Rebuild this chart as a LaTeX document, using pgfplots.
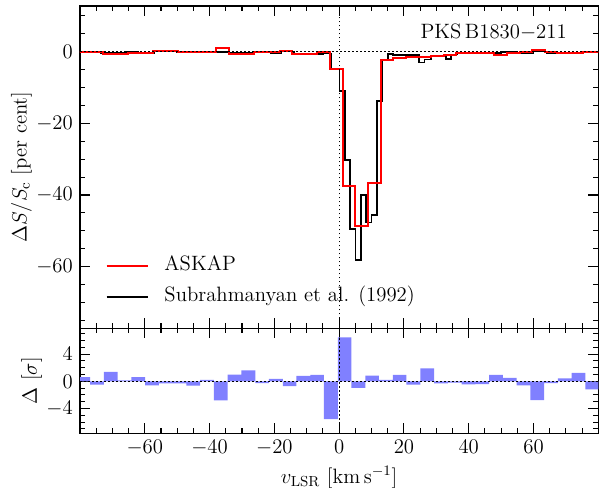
\documentclass[border=0pt]{standalone}
\usepackage{fix-cm}
\usepackage{fontspec}
\usepackage{pgfplots}
\pgfplotsset{compat=1.18}

\definecolor{resid}{RGB}{128,128,255}

\pgfplotsset{
  spec/.style={
    scale only axis, width=336.9pt,
    xmin=-80, xmax=80,
    tick align=inside,
    major tick length=6.5pt, minor tick length=3.3pt,
    every tick/.style={black, line width=0.7pt},
    axis line style={line width=0.9pt},
    xtick={-60,-40,...,60},
    minor xtick={-75,-70,...,75},
  },
}

\begin{document}
\fontsize{13.5}{16}\selectfont
\begin{tikzpicture}

% residuals
\begin{axis}[spec,
  name=res, at={(0,0)}, anchor=south west,
  height=68.25pt,
  ymin=-7.65, ymax=7.8,
  ytick={-4,0,4},
  minor ytick={-7,...,7},
  xlabel={$v_{\rm LSR}$ [km\,s$^{-1}$]},
  ylabel={$\Delta$ [$\sigma$]},
  every axis y label/.style={at={(axis description cs:-0.093,0.5)}, rotate=90, anchor=center},
  every axis x label/.style={at={(axis description cs:0.5,0)}, yshift=-28.5pt, anchor=center},
]
\addplot[const plot, fill=resid, draw=none] coordinates {
(-81.09,0.6) (-76.84,-0.5) (-72.60,1.4) (-68.35,0.15) (-64.11,0.6)
(-59.86,-0.6) (-55.62,-0.3) (-51.37,-0.3) (-47.13,-0.65) (-42.88,0.2)
(-38.64,-2.8) (-34.39,1.0) (-30.15,1.6) (-25.90,-0.25) (-21.66,0.35)
(-17.41,-0.7) (-13.17,0.8) (-8.92,0.95) (-4.68,-5.55) (-0.43,6.45)
(3.81,-0.95) (8.06,0.85) (12.30,0.2) (16.55,0.95) (20.79,-0.5)
(25.04,1.9) (29.28,-0.3) (33.53,-0.2) (37.77,-0.45) (42.02,-0.4)
(46.26,0.95) (50.51,0.5) (54.75,-0.6) (59.00,-2.75) (63.24,-0.25)
(67.49,0.45) (71.73,1.25) (75.98,-1.2) (80.22,-1.2)
} \closedcycle;
\addplot[black, line width=0.8pt, dash pattern=on 1pt off 1.6pt] coordinates {(-80,0) (80,0)};
\addplot[black, line width=0.8pt, dash pattern=on 1pt off 1.6pt] coordinates {(0,-8) (0,8)};
\end{axis}

% spectra
\begin{axis}[spec,
  name=main, at={(0,68.25pt)}, anchor=south west,
  height=209.5pt,
  ymin=-77.2, ymax=12.75,
  xticklabels={},
  ytick={-60,-40,-20,0},
  minor ytick={-75,-70,...,10},
  ylabel={$\Delta S/S_{\rm c}$ [per cent]},
  every axis y label/.style={at={(axis description cs:-0.113,0.5)}, rotate=90, anchor=center},
  legend cell align=left,
  legend style={draw=none, fill=none, at={(axis cs:-72.2,-64.1)}, anchor=west,
    inner sep=0pt, row sep=3pt,
    nodes={inner sep=2pt, text height=9.5pt, text depth=3.5pt},
    /tikz/every odd column/.append style={column sep=8pt}},
  legend image code/.code={\draw[#1] (0pt,0pt) -- (27pt,0pt);},
]
\addlegendimage{red, line width=1.3pt}
\addlegendentry{ASKAP}
\addlegendimage{black, line width=1pt}
\addlegendentry{Subrahmanyan et al. (1992)}

% Subrahmanyan et al. (1992)
\addplot[const plot, black, line width=1pt, forget plot] coordinates {
(-80,-0.1) (-73.5,-0.3) (-66,-0.1) (-62,-0.3) (-57,0.0) (-50,-0.2)
(-44,-0.1) (-34,-0.35) (-27,-0.2) (-21,-0.3) (-18,0.0) (-14,-0.5)
(-9,-0.6) (-5,-0.45) (-2.3,-4.9) (0.1,-10.9) (1.8,-30.2) (3.4,-49.5)
(5.0,-58.1) (6.7,-40.0) (8.3,-47.7) (10.0,-45.6) (11.7,-13.8)
(13.2,-2.3) (15.0,-0.65) (16.6,-1.0) (24.7,-3.0) (26.3,-2.2)
(28.3,-1.1) (33.0,-2.0) (34.6,-0.85) (36.6,-0.2) (45,-0.4) (50,-0.1)
(55,-0.3) (60,0.1) (64,-0.3) (70,-0.2) (75,0.0) (80,0.0)
};

% ASKAP
\addplot[const plot, red, line width=1.3pt, forget plot] coordinates {
(-80.8,-0.2) (-76.9,-0.2) (-73.0,-0.6) (-69.1,-0.6) (-65.2,-0.5)
(-61.3,-0.3) (-57.4,0.1) (-53.5,0.1) (-49.6,-0.2) (-45.7,-0.2)
(-41.8,-0.1) (-37.9,0.95) (-34.0,-0.7) (-30.1,-0.7) (-26.2,-0.2)
(-22.3,-0.2) (-18.4,0.1) (-14.5,-0.55) (-10.6,-0.55) (-6.7,-0.15)
(-2.8,-4.9) (1.1,-37.4) (5.0,-48.6) (8.9,-36.7) (12.8,-2.2)
(16.7,-1.9) (20.6,-1.6) (24.5,-1.4) (28.4,-1.2) (32.3,-0.8)
(36.2,-0.45) (40.1,-0.5) (44.0,-0.5) (47.9,-0.8) (51.8,-0.5)
(55.7,-0.2) (59.6,0.5) (63.5,-0.2) (67.4,-0.3) (71.3,-0.5)
(75.2,-0.1) (79.1,-0.2) (83.0,-0.2)
};

\addplot[black, line width=0.8pt, dash pattern=on 1pt off 1.6pt, forget plot] coordinates {(-80,0) (80,0)};
\addplot[black, line width=0.8pt, dash pattern=on 1pt off 1.6pt, forget plot] coordinates {(0,-80) (0,15)};

\node[anchor=east] at (axis cs:72.5,5.5) {PKS\,B1830$-$211};
\end{axis}

\pgfresetboundingbox
\path[use as bounding box] (-52pt,-34.9pt) rectangle (338pt,281.65pt);
\end{tikzpicture}
\end{document}
